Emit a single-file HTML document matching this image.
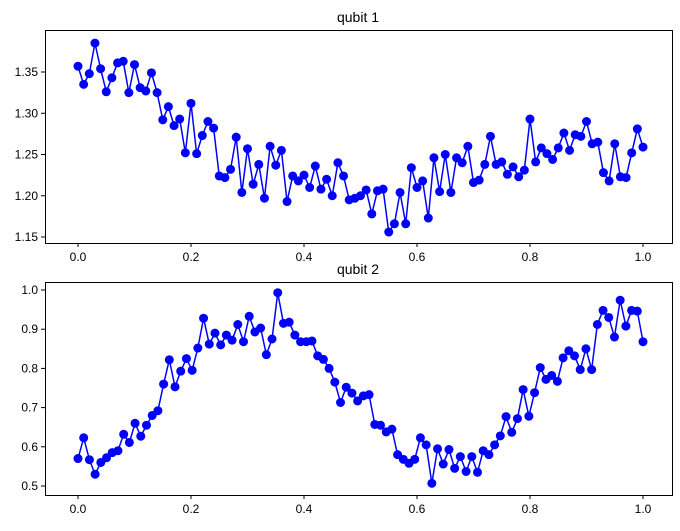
<!DOCTYPE html>
<html><head><meta charset="utf-8"><style>body{margin:0;background:#fff}svg{font-family:"Liberation Sans",sans-serif}</style></head>
<body>
<svg id="c" width="680" height="526"></svg>
<script>
const xTicks=[0.0,0.2,0.4,0.6,0.8,1.0];
const q1Ticks=[1.15,1.20,1.25,1.30,1.35];
const q2Ticks=[0.5,0.6,0.7,0.8,0.9,1.0];
const q1Values=[1.357,1.335,1.348,1.385,1.354,1.326,1.343,1.361,1.363,1.325,
1.359,1.331,1.327,1.349,1.325,1.292,1.308,1.285,1.293,1.252,
1.312,1.251,1.273,1.290,1.282,1.224,1.222,1.232,1.271,1.204,
1.257,1.214,1.238,1.197,1.260,1.237,1.255,1.193,1.224,1.218,
1.225,1.210,1.236,1.208,1.220,1.200,1.240,1.224,1.195,1.197,1.200,
1.207,1.178,1.206,1.208,1.156,1.166,1.204,1.166,1.234,1.210,
1.218,1.173,1.246,1.205,1.250,1.204,1.246,1.240,1.260,1.216,
1.219,1.238,1.272,1.238,1.241,1.226,1.235,1.223,1.231,1.293,
1.241,1.258,1.251,1.244,1.258,1.276,1.255,1.274,1.272,1.290,
1.263,1.265,1.228,1.218,1.263,1.223,1.222,1.252,1.281,1.259];
const q2Values=[0.570,0.623,0.567,0.530,0.560,0.572,0.585,0.590,0.632,0.611,
0.660,0.627,0.655,0.680,0.692,0.760,0.822,0.753,0.793,0.825,
0.795,0.852,0.928,0.862,0.890,0.860,0.885,0.872,0.912,0.868,
0.933,0.893,0.903,0.835,0.875,0.993,0.915,0.918,0.885,0.868,
0.868,0.870,0.832,0.823,0.800,0.765,0.713,0.752,0.737,0.717,0.730,
0.733,0.657,0.655,0.638,0.645,0.580,0.568,0.558,0.568,
0.623,0.605,0.507,0.595,0.556,0.593,0.545,0.575,0.537,0.575,
0.535,0.590,0.580,0.605,0.628,0.677,0.637,0.672,0.746,0.678,
0.738,0.802,0.772,0.782,0.767,0.827,0.845,0.832,0.797,0.850,
0.797,0.912,0.948,0.930,0.880,0.974,0.908,0.948,0.946,0.868];
const NS="http://www.w3.org/2000/svg",svg=document.getElementById('c');
function mk(t,a,p){const e=document.createElementNS(NS,t);for(const k in a)e.setAttribute(k,a[k]);(p||svg).appendChild(e);return e;}
const xs=v=>78+v*565;
function panel(name,title,vals,ticks,y0,v0,v1,py0,py1,top,bot,fmt){
 const g=mk('g',{});
 
 
 const ys=v=>py0+(v-v0)*(py1-py0)/(v1-v0);
 const t=mk('text',{x:358,y:top-8,'font-size':14,'text-anchor':'middle'},g);t.textContent=title;
 
 const fr=mk('rect',{x:45.5,y:top+0.5,width:627,height:bot-top,fill:'none',stroke:'#000','stroke-width':1},g);
 
 xTicks.forEach(v=>{const x=xs(v);mk('line',{x1:x,x2:x,y1:bot,y2:bot+4,stroke:'#000'},g);
  const l=mk('text',{x:x,y:bot+18,'font-size':12,'text-anchor':'middle'},g);l.textContent=v.toFixed(1);
  });
 ticks.forEach(v=>{const y=ys(v);mk('line',{x1:41,x2:45,y1:y,y2:y,stroke:'#000'},g);
  const l=mk('text',{x:38,y:y+4,'font-size':12,'text-anchor':'end'},g);l.textContent=v.toFixed(fmt);
  });
 const n=vals.length;const pts=vals.map((v,i)=>[xs(i/(n-1)),ys(v)]);
 const pl=mk('polyline',{points:pts.map(p=>p.join(',')).join(' '),fill:'none',stroke:'#0000ff','stroke-width':1.5},g);
 
 pts.forEach(p=>{const c=mk('circle',{cx:p[0],cy:p[1],r:4.5,fill:'#0000ff'},g);
  });
}
panel('qubit-1-panel','qubit 1',q1Values,q1Ticks,0,1.15,1.35,237,72,30,243,2);
panel('qubit-2-panel','qubit 2',q2Values,q2Ticks,0,0.5,1.0,486,290,282,495,1);
</script>
</body></html>
